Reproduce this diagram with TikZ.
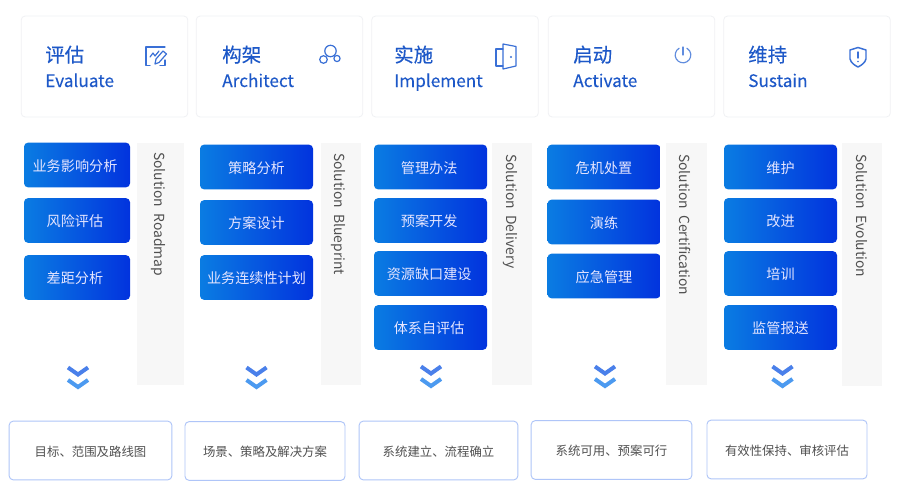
\documentclass[tikz,border=0pt]{standalone}
\usepackage{fontspec}
\setmainfont{Noto Sans CJK SC}
\newfontfamily\medfont[FakeBold=0.35]{Noto Sans CJK SC}
\newfontfamily\semifont[FakeBold=0.15]{Noto Sans CJK SC}
\definecolor{titleblue}{HTML}{1D58C8}
\definecolor{iconblue}{HTML}{3A70D6}
\definecolor{cardline}{HTML}{F0F1F4}
\definecolor{barback}{HTML}{F7F7F7}
\definecolor{bgleft}{HTML}{0A7CE2}
\definecolor{bgright}{HTML}{0233DE}
\definecolor{bottomline}{HTML}{AFC5F8}
\definecolor{chevtop}{HTML}{4A80EA}
\definecolor{chevbot}{HTML}{4C9AF0}
\definecolor{greytext}{HTML}{505050}
\tikzset{
 x=0.75pt,y=-0.75pt,
 card/.style={draw=cardline,fill=white,rounded corners=3pt,line width=0.6pt,inner sep=0pt,minimum height=75.75pt},
 cardzh/.style={anchor=base west,inner sep=0pt,text=titleblue,font=\fontsize{14.6}{16}\medfont},
 carden/.style={anchor=base west,inner sep=0pt,text=titleblue,font=\fontsize{12.9}{15}\semifont},
 bluebox/.style={rounded corners=3pt,left color=bgleft,right color=bgright,draw=none,text=white!90!blue,inner sep=0pt,minimum height=33.5pt,text height=10.7pt,text depth=1.3pt,font=\fontsize{10.6}{12}\selectfont},
 bar/.style={fill=barback,draw=none,inner sep=0pt,minimum height=182pt},
 sol/.style={rotate=-90,anchor=west,inner sep=0pt,text=greytext,font=\fontsize{10.4}{12}\selectfont},
 result/.style={draw=bottomline,fill=white,rounded corners=3pt,line width=0.7pt,inner sep=0pt,minimum height=44pt,text height=9.7pt,text depth=1.1pt,text=greytext,font=\fontsize{9.3}{11}\selectfont},
 icon/.style={draw=iconblue,line width=0.9pt,line join=round,line cap=round},
 chevu/.style={draw=chevtop,line width=3pt,miter limit=4},
 chevl/.style={draw=chevbot,line width=3pt,miter limit=4},
}
\newcommand{\chev}[2]{%
 \draw[chevu] (#1-10,#2+2.5) -- (#1,#2+9.5) -- (#1+10,#2+2.5);
 \draw[chevl] (#1-10,#2+15) -- (#1,#2+22) -- (#1+10,#2+15);}
\begin{document}
\begin{tikzpicture}
\useasboundingbox (0,0) rectangle (900,496);
\fill[white] (0,0) rectangle (900,496);
% top cards
\node[card,minimum width=125pt] (c1) at (104.5,66.5) {};
\node[card,minimum width=125pt] (c2) at (279.5,66.5) {};
\node[card,minimum width=125pt] (c3) at (455,66.5) {};
\node[card,minimum width=125pt] (c4) at (631.5,66.5) {};
\node[card,minimum width=125pt] (c5) at (807,66.5) {};
\node[cardzh] (t1) at (45,62) {评估};
\node[carden] (e1) at (45,87) {Evaluate};
\node[cardzh] (t2) at (222,62) {构架};
\node[carden] (e2) at (222,87) {Architect};
\node[cardzh] (t3) at (394,62) {实施};
\node[carden] (e3) at (394,87) {Implement};
\node[cardzh] (t4) at (573,62) {启动};
\node[carden] (e4) at (573,87) {Activate};
\node[cardzh] (t5) at (748,62) {维持};
\node[carden] (e5) at (748,87) {Sustain};
% icon evaluate
\draw[icon] (165,47) -- (146,47) -- (146,65.5) -- (150,65.5) (160,65.5) -- (165,65.5) -- (165,60);
\draw[icon] (150,57) -- (153,53) -- (155,56) -- (159,51);
\draw[icon] (155,64) -- (156,59) -- (163,51) -- (166.5,54) -- (159,62.5) -- cycle;
% icon architect
\draw[icon] (330.5,51) circle (5.7);
\draw[icon] (323.5,59.5) circle (3.8);
\draw[icon] (337,58.5) circle (3.1);
% icon door
\draw[icon] (503,49) -- (496,49) -- (496,66) -- (503,66);
\draw[icon] (503,44) -- (516,46.5) -- (516,66) -- (503,69) -- cycle;
\fill[iconblue] (511,57) circle (1.2);
% icon power
\draw[icon,draw=iconblue!80] (679.1,48.25) arc (240:-60:7.8);
\draw[icon,draw=iconblue!80] (683,47) -- (683,55);
% icon shield
\draw[icon,line width=1.1pt] (850,50) -- (858,47.5) -- (866,50) -- (866,59) .. controls (865,63) and (861,65.5) .. (858,67) .. controls (855,65.5) and (851,63) .. (850,59) -- cycle;
\draw[icon,line width=1.1pt] (858,52) -- (858,58);
\fill[iconblue] (858,61.5) circle (0.9);
% bars
\node[bar,minimum width=35.25pt] (b1) at (160.5,264) {};
\node[bar,minimum width=30pt] (b2) at (341,264) {};
\node[bar,minimum width=30pt] (b3) at (512,264) {};
\node[bar,minimum width=30.75pt] (b4) at (686.5,264) {};
\node[bar,minimum width=30pt] (b5) at (862,264.5) {};
\node[sol] (s1) at (158.5,152) {Solution\ \ Roadmap};
\node[sol] (s2) at (338.5,153) {Solution\ \ Blueprint};
\node[sol] (s3) at (510.5,154) {Solution\ \ Delivery};
\node[sol] (s4) at (685.5,154) {Solution\ \ Certification};
\node[sol] (s5) at (861.5,154) {Solution\ \ Evolution};
% blue boxes
\node[bluebox,minimum width=79.5pt] (a1) at (77,165) {\hspace{-3pt}业务影响分析};
\node[bluebox,minimum width=79.5pt] (a2) at (77,220.5) {\hspace{-3pt}风险评估};
\node[bluebox,minimum width=79.5pt] (a3) at (77,277.5) {\hspace{-3pt}差距分析};
\node[bluebox,minimum width=84.75pt] (a4) at (256.5,167) {策略分析};
\node[bluebox,minimum width=84.75pt] (a5) at (256.5,222.5) {方案设计};
\node[bluebox,minimum width=84.75pt] (a6) at (256.5,277.5) {业务连续性计划};
\node[bluebox,minimum width=84.75pt] (a7) at (430.5,167) {\hspace{-2pt}管理办法};
\node[bluebox,minimum width=84.75pt] (a8) at (430.5,220.5) {\hspace{-2pt}预案开发};
\node[bluebox,minimum width=84.75pt] (a9) at (430.5,273.5) {\hspace{-2pt}资源缺口建设};
\node[bluebox,minimum width=84.75pt] (a10) at (430.5,327.5) {\hspace{-2pt}体系自评估};
\node[bluebox,minimum width=84.75pt] (a11) at (604,167) {危机处置};
\node[bluebox,minimum width=84.75pt] (a12) at (604,222) {演练};
\node[bluebox,minimum width=84.75pt] (a13) at (604,276) {应急管理};
\node[bluebox,minimum width=84.75pt] (a14) at (780.5,167) {维护};
\node[bluebox,minimum width=84.75pt] (a15) at (780.5,220.5) {改进};
\node[bluebox,minimum width=84.75pt] (a16) at (780.5,273.5) {培训};
\node[bluebox,minimum width=84.75pt] (a17) at (780.5,327.5) {监管报送};
% chevrons
\chev{78}{365}
\chev{256.5}{365}
\chev{431}{364}
\chev{605}{364}
\chev{782.5}{364}
% bottom boxes
\node[result,minimum width=122pt] (r1) at (90.5,450.5) {目标、范围及路线图};
\node[result,minimum width=120pt] (r2) at (265,451) {场景、策略及解决方案};
\node[result,minimum width=119pt] (r3) at (438.5,450.5) {系统建立、流程确立};
\node[result,minimum width=120.5pt] (r4) at (611.5,450) {系统可用、预案可行};
\node[result,minimum width=120pt] (r5) at (787,449.5) {有效性保持、审核评估};
\end{tikzpicture}
\end{document}
